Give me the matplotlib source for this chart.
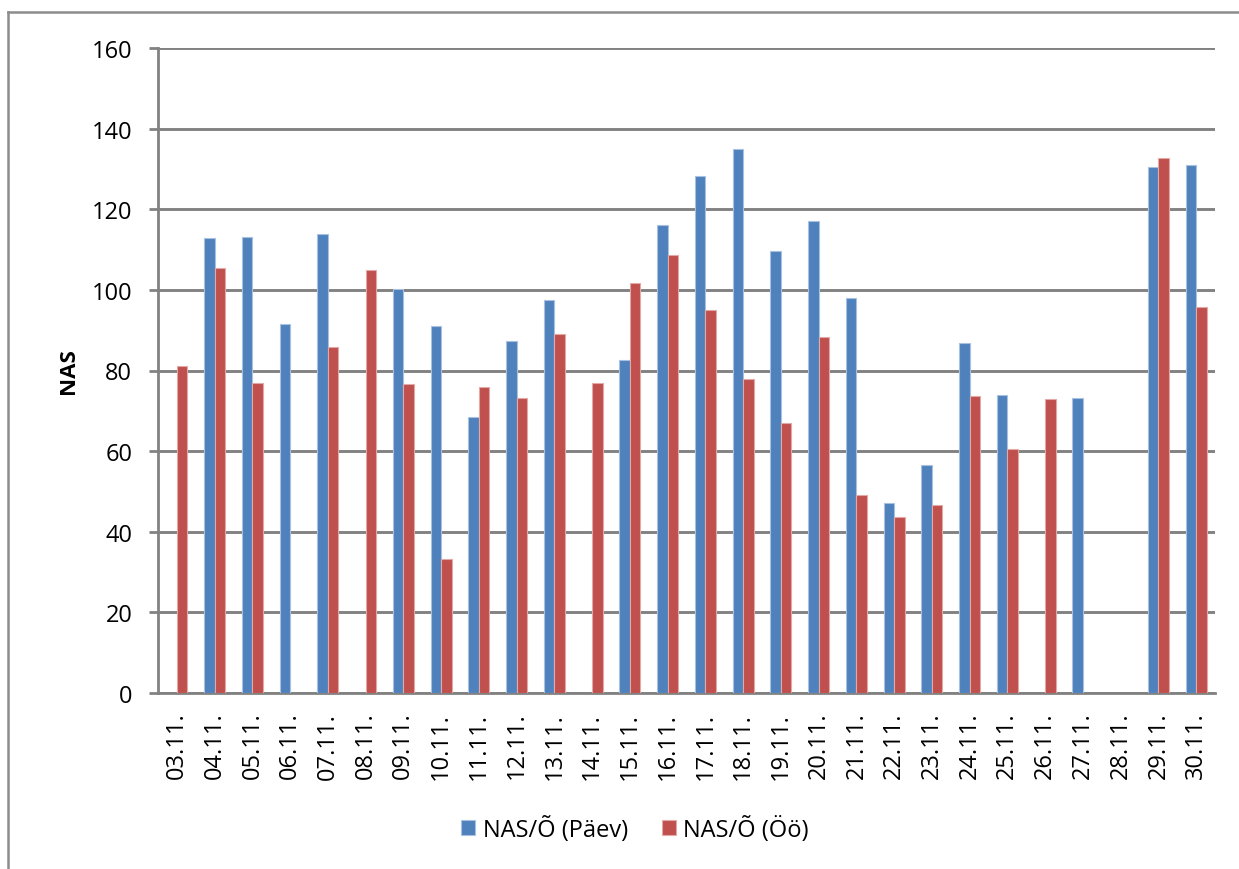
import numpy as np
import matplotlib
matplotlib.use("Agg")
import matplotlib.pyplot as plt
from matplotlib.lines import Line2D

plt.rcParams['font.family'] = ['Open Sans', 'DejaVu Sans']

dates = ["03.11.", "04.11.", "05.11.", "06.11.", "07.11.", "08.11.", "09.11.",
         "10.11.", "11.11.", "12.11.", "13.11.", "14.11.", "15.11.", "16.11.",
         "17.11.", "18.11.", "19.11.", "20.11.", "21.11.", "22.11.", "23.11.",
         "24.11.", "25.11.", "26.11.", "27.11.", "28.11.", "29.11.", "30.11."]

nan = np.nan
paev = [nan, 112.8, 113.1, 91.6, 113.8, nan, 100.1,
        91.0, 68.5, 87.3, 97.5, nan, 82.5, 116.1,
        128.2, 134.9, 109.6, 117.0, 98.1, 47.2, 56.6,
        86.7, 74.0, nan, 73.3, nan, 130.6, 131.1]
oo = [81.2, 105.4, 77.0, nan, 85.8, 105.0, 76.7,
      33.3, 76.0, 73.1, 89.0, 77.0, 101.7, 108.7,
      94.9, 78.0, 67.0, 88.4, 49.2, 43.7, 46.6,
      73.7, 60.6, 73.0, nan, nan, 132.6, 95.8]

series_labels = ["NAS/Õ (Päev)", "NAS/Õ (Öö)"]
y_ticks = [0, 20, 40, 60, 80, 100, 120, 140, 160]

W, H = 1239, 870
fig = plt.figure(figsize=(W / 100, H / 100), dpi=100)
ax = fig.add_axes([158 / W, 1 - 694 / H, (1215 - 158) / W, (694 - 49) / H])

grid_col = "#828282"
x = np.arange(len(dates))
bw = 0.28
ax.bar(x - bw / 2, paev, bw, color="#4F81BD", edgecolor="#A9C1E0",
       linewidth=0.8, label=series_labels[0], zorder=3)
ax.bar(x + bw / 2, oo, bw, color="#C0504D", edgecolor="#E3A9A7",
       linewidth=0.8, label=series_labels[1], zorder=3)

ax.set_xlim(-0.5, len(dates) - 0.5)
ax.set_ylim(0, 160)
ax.set_yticks(y_ticks)
ax.set_xticks(x)
ax.set_xticklabels(dates, rotation=90, fontsize=17)
ax.tick_params(axis='x', length=0, pad=13.5)
ax.tick_params(axis='y', length=6.5, width=2.0, color=grid_col,
               labelsize=17, pad=12)

ax.yaxis.grid(True, color=grid_col, linewidth=2.1, zorder=0)
ax.set_axisbelow(True)
for s in ["top", "right"]:
    ax.spines[s].set_visible(False)
for s in ["left", "bottom"]:
    ax.spines[s].set_color(grid_col)
    ax.spines[s].set_linewidth(2.0)

fig.text(68 / W, 1 - 371 / H, "NAS", rotation=90, ha="center", va="center",
         fontsize=16, fontweight="bold")

fig.legend(loc="center", bbox_to_anchor=(635 / W, 1 - 830 / H), ncol=2,
           frameon=False, fontsize=17, handlelength=0.6, handleheight=0.6,
           handletextpad=0.3, columnspacing=1.45)

# outer chart frame
fig.add_artist(Line2D([8 / W, 8 / W], [0, 1 - 13 / H], color="#8c8c8c",
                      linewidth=1.8, transform=fig.transFigure))
fig.add_artist(Line2D([8 / W, 1], [1 - 13 / H, 1 - 13 / H], color="#8c8c8c",
                      linewidth=1.8, transform=fig.transFigure))

fig.savefig("out.png", dpi=100, facecolor="white")
